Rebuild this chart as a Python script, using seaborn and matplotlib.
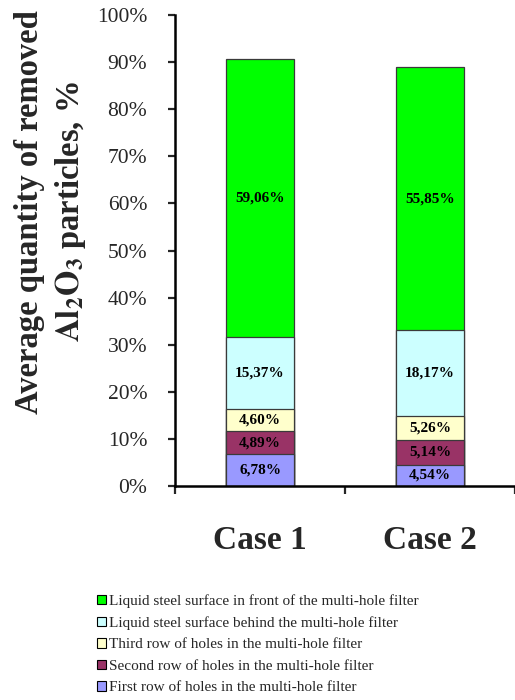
import matplotlib
matplotlib.use("Agg")
import matplotlib.pyplot as plt
from matplotlib.patches import Patch
import numpy as np
import seaborn as sns

# Removed Al2O3 particle shares per capture location, % of total
cases = ["Case 1", "Case 2"]
first_row = [6.78, 4.54]
second_row = [4.89, 5.14]
third_row = [4.60, 5.26]
behind_filter = [15.37, 18.17]
front_filter = [59.06, 55.85]

series_names = [
    "First row of holes in the multi-hole filter",
    "Second row of holes in the multi-hole filter",
    "Third row of holes in the multi-hole filter",
    "Liquid steel surface behind the multi-hole filter",
    "Liquid steel surface in front of the multi-hole filter",
]
series_colors = ["#9999FF", "#993366", "#FFFFCC", "#CCFFFF", "#00FF00"]
y_ticks = list(range(0, 101, 10))
y_tick_labels = [f"{v}%" for v in y_ticks]

sns.set_theme(style="white")
plt.rcParams["font.family"] = ["Liberation Serif", "DejaVu Serif"]
plt.rcParams["mathtext.fontset"] = "stix"

layers = [first_row, second_row, third_row, behind_filter, front_filter]
values = np.array(layers)
tops = np.cumsum(values, axis=0)
bottoms = tops - values

fig = plt.figure(figsize=(5.15, 7.0), dpi=100)
ax = fig.add_axes([175 / 515, 1 - 486 / 700, 340 / 515, (486 - 15) / 700])

# Stacked bars: draw cumulative heights from the top layer downwards
for i in range(len(layers) - 1, -1, -1):
    sns.barplot(x=cases, y=tops[i], color=series_colors[i], saturation=1,
                width=0.4, edgecolor="#3a3a3a", linewidth=0.9, ax=ax)

# Segment value labels
for i in range(len(layers)):
    for j in range(len(cases)):
        mid = bottoms[i, j] + values[i, j] / 2
        txt = f"{values[i, j]:.2f}%".replace(".", ",")
        ax.text(j, mid, txt, ha="center", va="center", fontsize=11,
                fontweight="bold", color="black")

ax.set_xlim(-0.5, 1.5)
ax.set_ylim(0, 100)
ax.set_yticks(y_ticks)
ax.set_yticklabels(y_tick_labels, fontsize=15.5)
ax.tick_params(axis="y", direction="out", length=5, width=1.6, pad=15, left=True)

ax.set_xticks([0, 1])
ax.set_xticklabels(cases, fontsize=24, fontweight="bold")
ax.tick_params(axis="x", which="major", length=0, pad=28)
ax.set_xticks([-0.5, 0.5, 1.5], minor=True)
ax.tick_params(axis="x", which="minor", direction="out", length=6, width=1.6, bottom=True)

for s in ["top", "right"]:
    ax.spines[s].set_visible(False)
for s in ["left", "bottom"]:
    ax.spines[s].set_color("black")
    ax.spines[s].set_linewidth(1.8)
ax.set_xlabel("")
ax.set_ylabel("")

fig.text(51 / 515, 1 - 212 / 700,
         "Average quantity of removed\n$\\mathbf{Al_2O_3}$ particles, %",
         rotation=90, ha="center", va="center", fontsize=23.5,
         fontweight="bold", linespacing=1.3, multialignment="center")

handles = [Patch(facecolor=series_colors[i], edgecolor="black", linewidth=0.8)
           for i in range(len(layers) - 1, -1, -1)]
labels = [series_names[i] for i in range(len(layers) - 1, -1, -1)]
fig.legend(handles, labels, loc="upper left", bbox_to_anchor=(91 / 515, 1 - 588 / 700),
           frameon=False, fontsize=11, handlelength=0.55, handleheight=0.55,
           handletextpad=0.25, labelspacing=0.55, borderaxespad=0)

fig.savefig("out.png", dpi=100)
